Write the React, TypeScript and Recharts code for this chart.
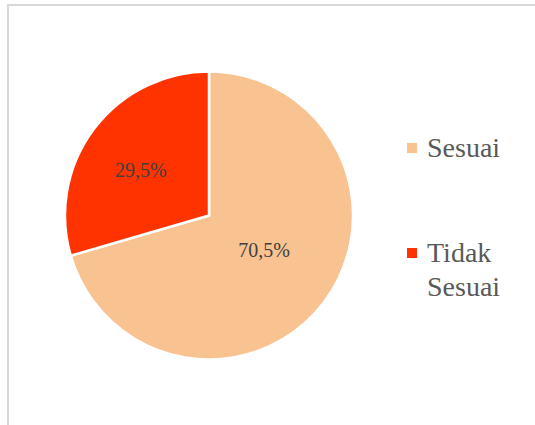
import React from 'react';
import { PieChart, Pie, Cell, Legend } from 'recharts';

const categories = ['Sesuai', 'Tidak Sesuai'];
const values = [70.5, 29.5];
const colors = ['#F9C291', '#FF3300'];
const legendLines = [['Sesuai'], ['Tidak', 'Sesuai']];

const data = categories.map((name, i) => ({ name, value: values[i] }));

const FONT = '"Liberation Serif", "Times New Roman", serif';
const RAD = Math.PI / 180;
const labelRadius = [0.45, 0.57];
const labelAngleShift = [5, 3];

const renderLabel = (props: any) => {
  const { cx, cy, midAngle, outerRadius, index, value } = props;
  const r = outerRadius * labelRadius[index];
  const a = (midAngle + labelAngleShift[index]) * RAD;
  const x = cx + r * Math.cos(a);
  const y = cy - r * Math.sin(a);
  return (
    <text
      x={x}
      y={y}
      textAnchor="middle"
      dominantBaseline="central"
      fill="#404040"
      fontFamily={FONT}
      fontSize={20}
    >
      {Number(value).toFixed(1).replace('.', ',') + '%'}
    </text>
  );
};

const LegendContent = (props: any) => {
  const payload = props.payload || [];
  const tops = [0, 105];
  return (
    <svg width={135} height={200} style={{ display: 'block' }}>
      {payload.map((p: any, i: number) => (
        <g key={i}>
          <rect x={7} y={tops[i] + 13} width={10} height={10} fill={colors[i]} />
          {legendLines[i].map((line, j) => (
            <text
              key={j}
              x={27}
              y={tops[i] + 27 + j * 34}
              fill="#595959"
              fontFamily={FONT}
              fontSize={28}
            >
              {line}
            </text>
          ))}
        </g>
      ))}
    </svg>
  );
};

export default function App() {
  return (
    <div style={{ position: 'absolute', left: 0, top: 0, width: 535, height: 425, background: '#fff' }}>
      <div
        style={{
          position: 'absolute',
          left: 7,
          top: 4,
          width: 528,
          height: 421,
          borderLeft: '2px solid #d9d9d9',
          borderTop: '2px solid #d9d9d9',
          boxSizing: 'border-box',
        }}
      />
      <div style={{ position: 'absolute', left: 0, top: 0 }}>
        <PieChart width={535} height={425} margin={{ top: 0, right: 0, bottom: 0, left: 0 }}>
          <Pie
            data={data}
            dataKey="value"
            nameKey="name"
            cx={209}
            cy={215.5}
            outerRadius={144}
            startAngle={90}
            endAngle={-270}
            stroke="#ffffff"
            strokeWidth={2.5}
            label={renderLabel}
            labelLine={false}
            isAnimationActive={false}
          >
            {data.map((d, i) => (
              <Cell key={d.name} fill={colors[i]} />
            ))}
          </Pie>
          <Legend
            content={<LegendContent />}
            wrapperStyle={{ left: 400, top: 130, width: 135, height: 200 }}
          />
        </PieChart>
      </div>
    </div>
  );
}
